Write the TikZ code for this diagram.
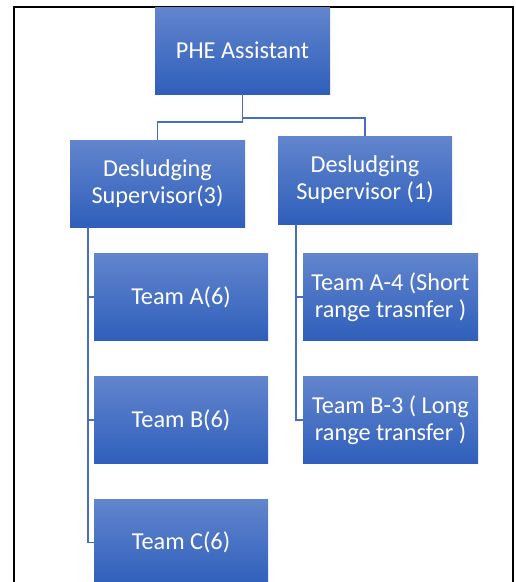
\documentclass[tikz,border=0pt]{standalone}
\usepackage{fontspec}
\setmainfont{Carlito}
\begin{document}
\begin{tikzpicture}[x=1pt,y=-1pt,
  box/.style={rectangle, inner sep=0pt, minimum width=175pt, minimum height=87pt,
    top color=orgtop, bottom color=orgbot, draw=none, text=white, align=center,
    font=\fontsize{24.3}{27}\selectfont},
  link/.style={draw=orgline, line width=1.6pt}]
\definecolor{orgtop}{RGB}{98,133,205}
\definecolor{orgbot}{RGB}{47,95,187}
\definecolor{orgline}{RGB}{70,110,190}
\useasboundingbox (0,0) rectangle (515,582);
\clip (0,0) rectangle (515,582);
\fill[white] (0,0) rectangle (515,582);
% outer frame
\draw[black, line width=2pt] (14,7) rectangle (513,620);

% boxes
\node[box] (phe) at (242.5,50.5) {PHE Assistant};
\node[box] (sup1) at (157.5,183.5) {Desludging\\Supervisor(3)};
\node[box, minimum width=174pt, minimum height=88pt] (sup2) at (365,180) {Desludging\\Supervisor (1)};
\node[box, minimum width=174pt] (ta) at (181,297) {Team A(6)};
\node[box, minimum width=174pt] (tb) at (181,420) {Team B(6)};
\node[box, minimum width=174pt] (tc) at (181,542.5) {Team C(6)};
\node[box] (ra) at (390.5,297) {Team A-4 (Short\\range trasnfer )};
\node[box] (rb) at (390.5,420) {Team B-3 ( Long\\range transfer )};

% top level links
\draw[link] (phe.south) -- ++(0,28) -| (sup1.north);
\draw[link] (phe.south) -- ++(0,24) -| (sup2.north);

% left column links
\coordinate (l1) at ([xshift=18pt]sup1.south west);
\draw[link] (l1) |- (ta.west);
\draw[link] (l1) |- (tb.west);
\draw[link] (l1) |- (tc.west);

% right column links
\coordinate (r1) at ([xshift=18pt]sup2.south west);
\draw[link] (r1) |- (ra.west);
\draw[link] (r1) |- (rb.west);
\end{tikzpicture}
\end{document}
